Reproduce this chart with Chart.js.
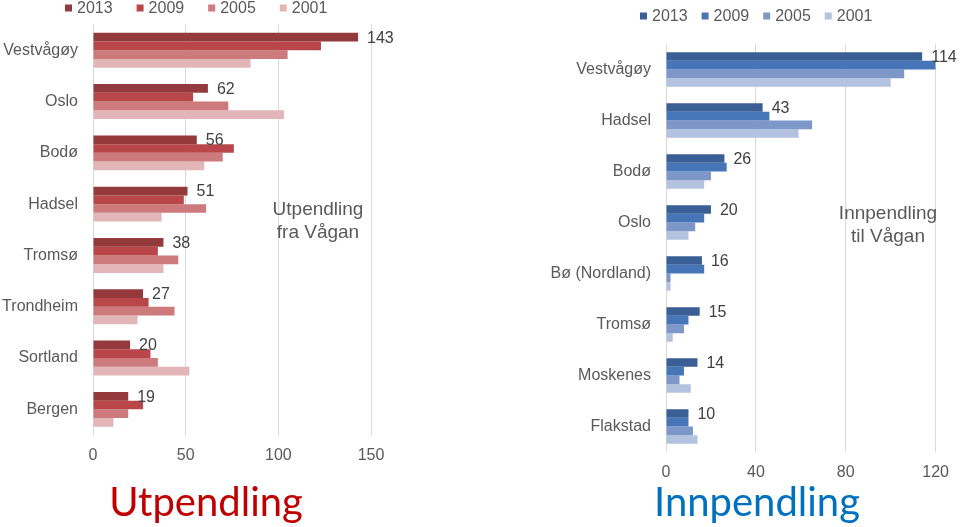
<!DOCTYPE html>
<html>
<head>
<meta charset="utf-8">
<script src="https://cdn.jsdelivr.net/npm/chart.js@4"></script>
<style>
  body { margin: 0; background: #fff; width: 960px; height: 527px; position: relative; overflow: hidden; }
  canvas { position: absolute; top: 0; }
  .note { position: absolute; font: 19px "Liberation Sans", Arial, sans-serif; color: #595959; text-align: center; line-height: 23px; }
  .big { position: absolute; font: 40px Lato, sans-serif; text-align: center; }
</style>
</head>
<body>
<canvas id="ut" width="480" height="480" style="left:0"></canvas>
<canvas id="inn" width="480" height="490" style="left:480px"></canvas>
<div class="note" style="left:258px; top:197px; width:120px;">Utpendling<br>fra Vågan</div>
<div class="note" style="left:823px; top:201px; width:130px;">Innpendling<br>til Vågan</div>
<div class="big" style="left:86px; top:477px; width:240px; color:#C00000;">Utpendling</div>
<div class="big" style="left:637px; top:477px; width:240px; color:#0070C0;">Innpendling</div>
<script>
const years = ['2013', '2009', '2005', '2001'];

const utSteder = ['Vestvågøy', 'Oslo', 'Bodø', 'Hadsel', 'Tromsø', 'Trondheim', 'Sortland', 'Bergen'];
const ut2013 = [143, 62, 56, 51, 38, 27, 20, 19];
const ut2009 = [123, 54, 76, 49, 35, 30, 31, 27];
const ut2005 = [105, 73, 70, 61, 46, 44, 35, 19];
const ut2001 = [85, 103, 60, 37, 38, 24, 52, 11];
const utTicks = [0, 50, 100, 150];

const innSteder = ['Vestvågøy', 'Hadsel', 'Bodø', 'Oslo', 'Bø (Nordland)', 'Tromsø', 'Moskenes', 'Flakstad'];
const inn2013 = [114, 43, 26, 20, 16, 15, 14, 10];
const inn2009 = [120, 46, 27, 17, 17, 10, 8, 10];
const inn2005 = [106, 65, 20, 13, 2, 8, 6, 12];
const inn2001 = [100, 59, 17, 10, 2, 3, 11, 14];
const innTicks = [0, 40, 80, 120];

const reds = ['#953A3C', '#B9474A', '#CD7A7C', '#E2B6B8'];
const blues = ['#3A5F96', '#4676B8', '#7D98C8', '#B3C2DF'];

Chart.defaults.font.family = '"Liberation Sans", Arial, sans-serif';
Chart.defaults.font.size = 16;
Chart.defaults.color = '#595959';

// legend drawn by hand so it can sit exactly where the original has it
function legendPlugin(x0, y, gap) {
  return {
    id: 'handLegend',
    afterDraw(chart) {
      const ctx = chart.ctx;
      ctx.save();
      ctx.font = '16px "Liberation Sans", Arial, sans-serif';
      ctx.textBaseline = 'middle';
      let x = x0;
      chart.data.datasets.forEach(ds => {
        ctx.fillStyle = ds.backgroundColor;
        ctx.fillRect(x, y - 3.5, 7, 7);
        ctx.fillStyle = '#595959';
        ctx.fillText(ds.label, x + 12, y + 1);
        x += 12 + ctx.measureText(ds.label).width + gap;
      });
      ctx.restore();
    }
  };
}

const valueLabels = {
  id: 'valueLabels',
  afterDatasetsDraw(chart) {
    const ctx = chart.ctx;
    const meta = chart.getDatasetMeta(0);
    const vals = chart.data.datasets[0].data;
    ctx.save();
    ctx.font = '16px "Liberation Sans", Arial, sans-serif';
    ctx.fillStyle = '#404040';
    ctx.textBaseline = 'middle';
    meta.data.forEach((bar, i) => {
      ctx.fillText(vals[i], bar.x + 9, bar.y + 1);
    });
    ctx.restore();
  }
};

function makeChart(id, labels, series, colors, ticks, yWidth, xHeight, padTop, padRight, legend) {
  new Chart(document.getElementById(id), {
    type: 'bar',
    data: {
      labels: labels,
      datasets: series.map((d, i) => ({
        label: years[i],
        data: d,
        backgroundColor: colors[i],
        barPercentage: 1,
        categoryPercentage: 0.68
      }))
    },
    options: {
      indexAxis: 'y',
      responsive: false,
      animation: false,
      devicePixelRatio: 1,
      layout: { padding: { top: padTop, right: padRight, left: 0, bottom: 0 } },
      plugins: { legend: { display: false }, tooltip: { enabled: false } },
      scales: {
        x: {
          min: ticks[0],
          max: ticks[ticks.length - 1],
          afterBuildTicks: s => { s.ticks = ticks.map(v => ({ value: v })); },
          afterFit: s => { s.height = xHeight; },
          grid: { color: '#D9D9D9', drawTicks: false },
          border: { display: false },
          ticks: { padding: 11, color: '#595959' }
        },
        y: {
          afterFit: s => { s.width = yWidth; },
          grid: { display: false, drawTicks: false },
          border: { display: false },
          ticks: { padding: 15, color: '#595959' }
        }
      }
    },
    plugins: [valueLabels, legendPlugin(legend[0], legend[1], legend[2])]
  });
}

makeChart('ut', utSteder, [ut2013, ut2009, ut2005, ut2001], reds, utTicks, 93, 45, 24, 109, [65, 8, 24]);
makeChart('inn', innSteder, [inn2013, inn2009, inn2005, inn2001], blues, innTicks, 186, 38, 44, 22, [160, 16, 14]);
</script>
</body>
</html>
